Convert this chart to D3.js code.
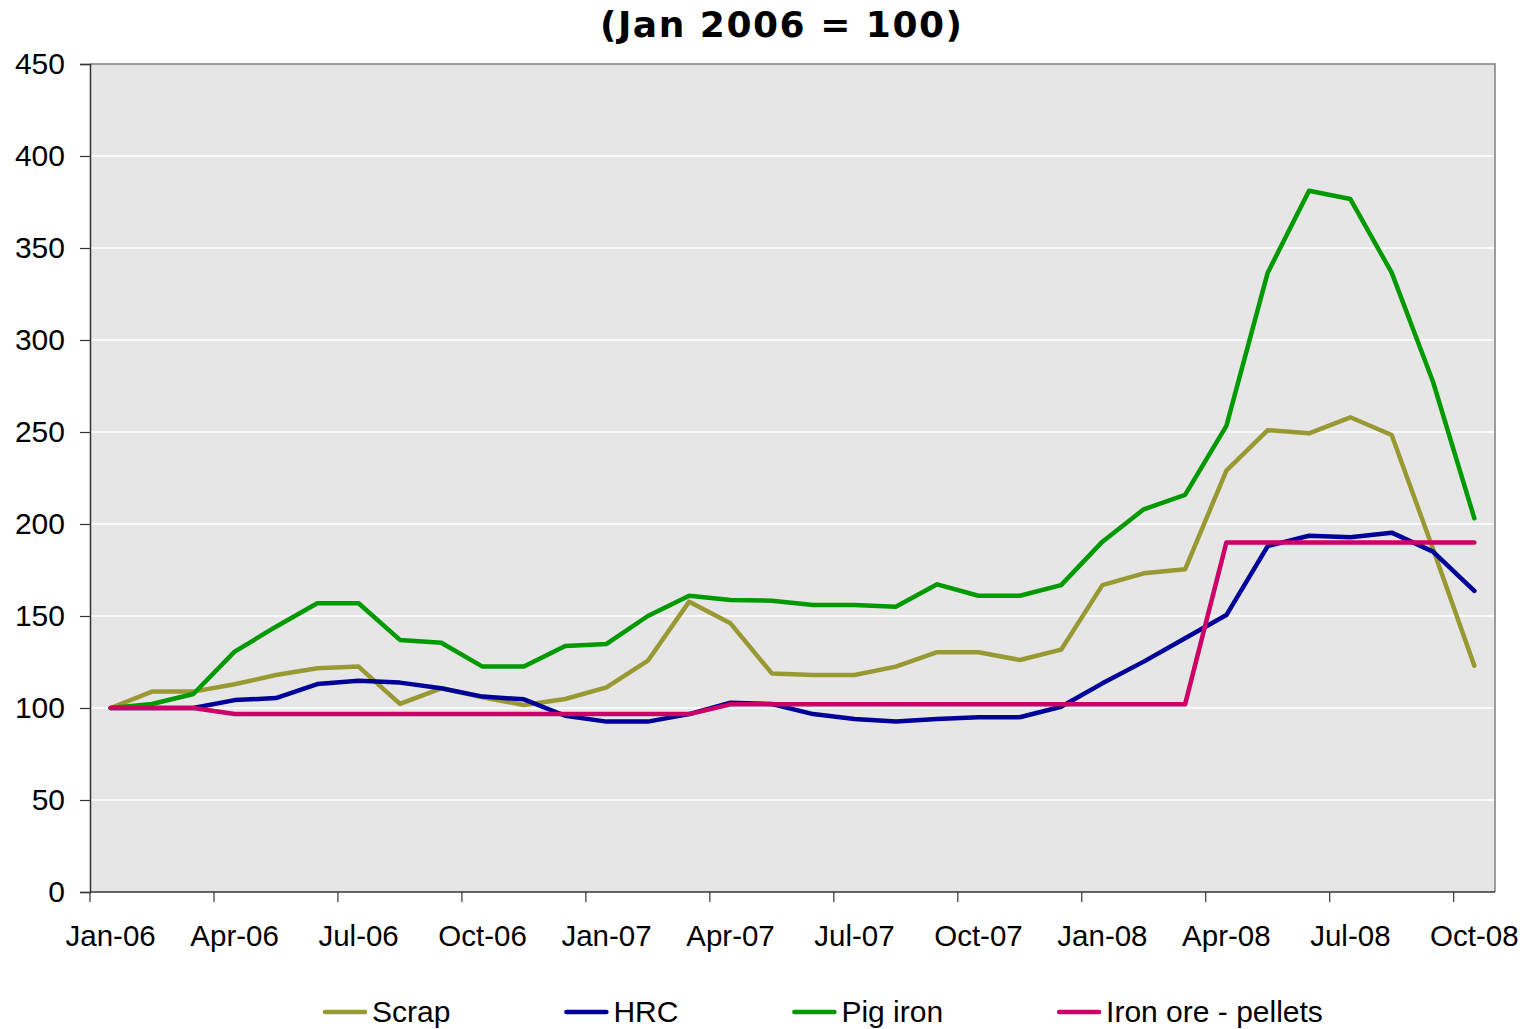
<!DOCTYPE html>
<html>
<head>
<meta charset="utf-8">
<script src="https://cdn.jsdelivr.net/npm/d3@7/dist/d3.min.js"></script>
<style>
  body { margin: 0; background: #fff; }
  svg { display: block; font-family: "Liberation Sans", Arial, sans-serif; }
  .grid line { stroke: #fff; stroke-width: 1.5; }
  .series { fill: none; stroke-width: 4.5; stroke-linejoin: round; stroke-linecap: round; }
</style>
</head>
<body>
<script>
// monthly categories Jan-06 .. Oct-08
const months = ["Jan-06","Feb-06","Mar-06","Apr-06","May-06","Jun-06","Jul-06","Aug-06","Sep-06","Oct-06","Nov-06","Dec-06",
  "Jan-07","Feb-07","Mar-07","Apr-07","May-07","Jun-07","Jul-07","Aug-07","Sep-07","Oct-07","Nov-07","Dec-07",
  "Jan-08","Feb-08","Mar-08","Apr-08","May-08","Jun-08","Jul-08","Aug-08","Sep-08","Oct-08"];

const scrap = [100,108.9,108.9,112.9,117.9,121.6,122.5,102.2,110.7,105.8,101.6,104.9,
  111.2,125.7,157.8,146,118.8,117.9,117.9,122.5,130.3,130.3,126.1,131.7,
  166.8,173.2,175.4,229,251,249.3,258,248.4,186.4,123];
const hrc = [100,100,100,104.3,105.4,113,114.8,113.8,110.7,106.2,104.7,95.8,
  92.6,92.6,96.7,102.9,102.2,96.7,94,92.6,94,95,95,100.7,
  113.4,125.2,137.9,150.5,188,193.6,192.8,195.3,185,163.6];
const pigIron = [100,102.2,107.6,130.6,144.2,156.9,156.9,137,135.5,122.5,122.5,133.7,
  134.8,150,161,158.7,158.3,156,156,155,167.2,161,161,166.8,
  190.4,208,215.8,253.3,336.6,381.1,376.6,336.6,277.3,203.1];
const pellets = [100,100,100,96.7,96.7,96.7,96.7,96.7,96.7,96.7,96.7,96.7,
  96.7,96.7,96.7,102,102,102,102,102,102,102,102,102,
  102,102,102,190,190,190,190,190,190,190];

const seriesNames = ["Scrap","HRC","Pig iron","Iron ore - pellets"];
const seriesColors = ["#999933","#000099","#009900","#CC0066"];
const seriesValues = [scrap, hrc, pigIron, pellets];

const yTicks = [0,50,100,150,200,250,300,350,400,450];
const titleText = "(Jan 2006 = 100)";

const W = 1525, H = 1029;
const plot = {left: 90, right: 1495, top: 64, bottom: 892};

const svg = d3.select("body").append("svg").attr("width", W).attr("height", H);

const x = d3.scaleBand().domain(months).range([plot.left, plot.right]);
const y = d3.scaleLinear().domain([0, 450]).range([plot.bottom, plot.top]);
const cx = m => x(m) + x.bandwidth() / 2;

// plot background
svg.append("rect")
  .attr("x", plot.left).attr("y", plot.top)
  .attr("width", plot.right - plot.left).attr("height", plot.bottom - plot.top)
  .attr("fill", "#E6E6E6");

// gridlines
svg.append("g").attr("class", "grid")
  .selectAll("line").data(yTicks.filter(d => d > 0 && d < 450)).enter()
  .append("line")
  .attr("x1", plot.left).attr("x2", plot.right)
  .attr("y1", d => y(d)).attr("y2", d => y(d));

// top/right border
svg.append("path")
  .attr("d", `M${plot.left},${plot.top}H${plot.right}V${plot.bottom}`)
  .attr("fill", "none").attr("stroke", "#808080").attr("stroke-width", 1.5);

// y axis
const yAxis = svg.append("g")
  .attr("transform", `translate(${plot.left},0)`)
  .call(d3.axisLeft(y).tickValues(yTicks).tickSize(10).tickPadding(15));
yAxis.selectAll("text").attr("font-size", 30).attr("fill", "#000").attr("font-family", "Liberation Sans, Arial, sans-serif");
yAxis.selectAll("line").attr("stroke", "#333").attr("stroke-width", 1.2);
yAxis.select(".domain").attr("stroke", "#333").attr("stroke-width", 1.5);

// x axis (ticks between categories every 3 months)
const xg = svg.append("g");
xg.append("line")
  .attr("x1", plot.left).attr("x2", plot.right)
  .attr("y1", plot.bottom).attr("y2", plot.bottom)
  .attr("stroke", "#333").attr("stroke-width", 1.5);
const quarterMonths = months.filter((m, i) => i % 3 === 0);
xg.selectAll("line.tick").data(quarterMonths).enter()
  .append("line").attr("class", "tick")
  .attr("x1", d => x(d)).attr("x2", d => x(d))
  .attr("y1", plot.bottom).attr("y2", plot.bottom + 10)
  .attr("stroke", "#333").attr("stroke-width", 1.2);
xg.selectAll("text").data(quarterMonths).enter()
  .append("text")
  .attr("x", d => cx(d)).attr("y", 946)
  .attr("text-anchor", "middle").attr("font-size", 29.5)
  .text(d => d);

// series
const line = d3.line().x((d, i) => cx(months[i])).y(d => y(d));
svg.selectAll("path.series").data(seriesValues).enter()
  .append("path").attr("class", "series")
  .attr("stroke", (d, i) => seriesColors[i])
  .attr("d", d => line(d));

// title
svg.append("text")
  .attr("x", 781).attr("y", 37)
  .attr("text-anchor", "middle")
  .attr("font-family", "DejaVu Sans, Verdana, sans-serif")
  .attr("font-weight", "bold").attr("font-size", 36)
  .attr("textLength", 362).attr("lengthAdjust", "spacing")
  .text(titleText);

// legend
const legend = svg.append("g");
let lx = 325;
seriesNames.forEach((name, i) => {
  legend.append("line")
    .attr("x1", lx).attr("x2", lx + 40)
    .attr("y1", 1012).attr("y2", 1012)
    .attr("stroke", seriesColors[i]).attr("stroke-width", 4.5).attr("stroke-linecap", "round");
  const t = legend.append("text")
    .attr("x", lx + 47).attr("y", 1022)
    .attr("font-size", 30)
    .text(name);
  lx += 47 + t.node().getComputedTextLength() + 116;
});
</script>
</body>
</html>
